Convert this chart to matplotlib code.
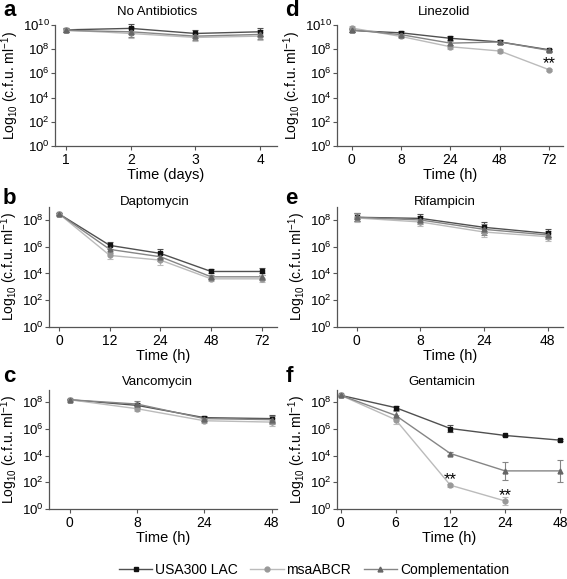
import numpy as np
import matplotlib
matplotlib.use("Agg")
import matplotlib.pyplot as plt
from matplotlib.lines import Line2D

plt.rcParams['font.family'] = ['Liberation Sans', 'DejaVu Sans']
plt.rcParams['mathtext.fontset'] = 'custom'
plt.rcParams['mathtext.rm'] = 'Liberation Sans'
plt.rcParams['mathtext.it'] = 'Liberation Sans'

# log10 c.f.u./ml; error in decades
a_x = ['1', '2', '3', '4']
a_usa = [9.6, 9.72, 9.3, 9.44]
a_msa = [9.58, 9.3, 8.97, 9.08]
a_comp = [9.55, 9.44, 9.08, 9.22]
a_err = [0.15, 0.4, 0.3, 0.35]

b_x = ['0', '12', '24', '48', '72']
b_usa = [8.45, 6.1, 5.5, 4.15, 4.15]
b_msa = [8.45, 5.35, 5.0, 3.6, 3.6]
b_comp = [8.45, 5.8, 5.25, 3.75, 3.75]
b_err = [0.05, 0.25, 0.35, 0.15, 0.25]

c_x = ['0', '8', '24', '48']
c_usa = [8.17, 7.75, 6.83, 6.76]
c_msa = [8.17, 7.5, 6.6, 6.5]
c_comp = [8.17, 7.85, 6.76, 6.68]
c_err = [0.05, 0.2, 0.15, 0.3]

d_x = ['0', '8', '24', '48', '72']
d_usa = [9.55, 9.35, 8.9, 8.6, 7.95]
d_msa = [9.75, 9.05, 8.2, 7.85, 6.3]
d_comp = [9.6, 9.2, 8.5, 8.6, 7.9]
d_err = [0.15, 0.15, 0.15, 0.2, 0.1]

e_x = ['0', '8', '24', '48']
e_usa = [8.2, 8.12, 7.45, 7.0]
e_msa = [8.15, 7.85, 7.1, 6.75]
e_comp = [8.2, 8.0, 7.3, 6.88]
e_err = [0.3, 0.3, 0.4, 0.3]

f_x = ['0', '6', '12', '24', '48']
f_usa = [8.5, 7.58, 6.02, 5.5, 5.15]
f_msa = [8.5, 6.68, 1.78, 0.6, np.nan]
f_comp = [8.5, 7.0, 4.15, 2.85, 2.85]
f_err_usa = [0.05, 0.15, 0.25, 0.05, 0.05]
f_err_msa = [0.05, 0.35, 0.1, 0.3, 0.0]
f_err_comp = [0.05, 0.3, 0.1, 0.7, 0.8]

styles = [
    ('USA300 LAC', 's', '#111111', '#505050'),
    ('msaABCR', 'o', '#999999', '#bbbbbb'),
    ('Complementation', '^', '#666666', '#858585'),
]

W, H = 567, 579
fig = plt.figure(figsize=(W / 100, H / 100), dpi=100)


def make_ax(left, right, top, bottom):
    return fig.add_axes([left / W, 1 - bottom / H, (right - left) / W, (bottom - top) / H])


def px_text(x, y, s, **kw):
    fig.text(x / W, 1 - y / H, s, **kw)


def draw(ax, xt, series, errs, xlabel, ymax, xlim):
    x = np.arange(len(xt))
    for (name, mk, mc, lc), y, e in zip(styles, series, errs):
        y = np.array(y, dtype=float)
        e = np.array(e, dtype=float)
        v = 10 ** y
        lo = v - 10 ** (y - e)
        hi = 10 ** (y + e) - v
        ax.errorbar(x, v, yerr=[lo, hi], color=lc, ecolor=lc, lw=1.0,
                    elinewidth=0.8, capsize=2, capthick=0.8,
                    marker=mk, ms=3.5, mfc=mc, mec=mc, zorder=3, clip_on=False)
    ax.set_yscale('log')
    ax.set_ylim(1, ymax)
    ax.set_xlim(*xlim)
    ax.set_yticks([10.0 ** k for k in range(0, 11, 2) if 10.0 ** k <= ymax * 1.01])
    ax.yaxis.set_minor_locator(matplotlib.ticker.NullLocator())
    ax.set_xticks(x)
    ax.set_xticklabels(xt, fontsize=10)
    ax.tick_params(axis='y', labelsize=9.5, length=3, width=0.8, color='#555555', pad=1)
    ax.tick_params(axis='x', length=3, width=0.8, color='#555555', pad=2)
    for s in ['top', 'right']:
        ax.spines[s].set_visible(False)
    for s in ['left', 'bottom']:
        ax.spines[s].set_color('#555555')
        ax.spines[s].set_linewidth(0.9)
    ax.set_xlabel(xlabel, fontsize=10.5, labelpad=1)
    ax.set_ylabel('Log$_{10}$ (c.f.u. ml$^{-1}$)', fontsize=10, labelpad=1)


ax_a = make_ax(55, 277, 25, 146)
draw(ax_a, a_x, [a_usa, a_msa, a_comp], [a_err] * 3, 'Time (days)', 1e10, (-0.17, 3.26))

ax_d = make_ax(337, 563, 25, 146)
draw(ax_d, d_x, [d_usa, d_msa, d_comp], [d_err] * 3, 'Time (h)', 1e10, (-0.3, 4.28))
ax_d.text(4, 10 ** (d_msa[4] + 0.1), '**', ha='center', va='baseline', fontsize=12)

ax_b = make_ax(49, 277, 207, 327)
draw(ax_b, b_x, [b_usa, b_msa, b_comp], [b_err] * 3, 'Time (h)', 10 ** 8.97, (-0.2, 4.3))

ax_e = make_ax(337, 563, 207, 327)
draw(ax_e, e_x, [e_usa, e_msa, e_comp], [e_err] * 3, 'Time (h)', 10 ** 8.97, (-0.31, 3.24))

ax_c = make_ax(49, 277, 390, 509)
draw(ax_c, c_x, [c_usa, c_msa, c_comp], [c_err] * 3, 'Time (h)', 10 ** 8.9, (-0.31, 3.08))

ax_f = make_ax(337, 561, 390, 509)
draw(ax_f, f_x, [f_usa, f_msa, f_comp], [f_err_usa, f_err_msa, f_err_comp],
     'Time (h)', 10 ** 8.9, (-0.07, 4.02))
for i in [2, 3]:
    ax_f.text(i, 10 ** (f_msa[i] + 0.05), '**', ha='center', va='baseline', fontsize=12)

# titles and panel letters
titles = [(157, 12, 'No Antibiotics'), (444, 12, 'Linezolid'),
          (155, 202, 'Daptomycin'), (445, 202, 'Rifampicin'),
          (157, 382, 'Vancomycin'), (442, 382, 'Gentamicin')]
for tx, ty, t in titles:
    px_text(tx, ty, t, ha='center', va='center', fontsize=9.5)
letters = [(3, 11, 'a'), (285, 11, 'd'), (3, 199, 'b'), (285, 199, 'e'),
           (3, 376, 'c'), (286, 376, 'f')]
for lx, ly, t in letters:
    px_text(lx, ly, t, ha='left', va='center', fontsize=16, fontweight='bold')

handles = [Line2D([], [], color=lc, marker=mk, mfc=mc, mec=mc, ms=3.5, lw=1.0)
           for name, mk, mc, lc in styles]
fig.legend(handles, [s[0] for s in styles], loc='center', bbox_to_anchor=(314 / W, 1 - 570 / H),
           ncol=3, frameon=False, fontsize=10, handlelength=2.4, columnspacing=0.9,
           handletextpad=0.2, borderpad=0, borderaxespad=0)

fig.savefig('out.png', dpi=100)
